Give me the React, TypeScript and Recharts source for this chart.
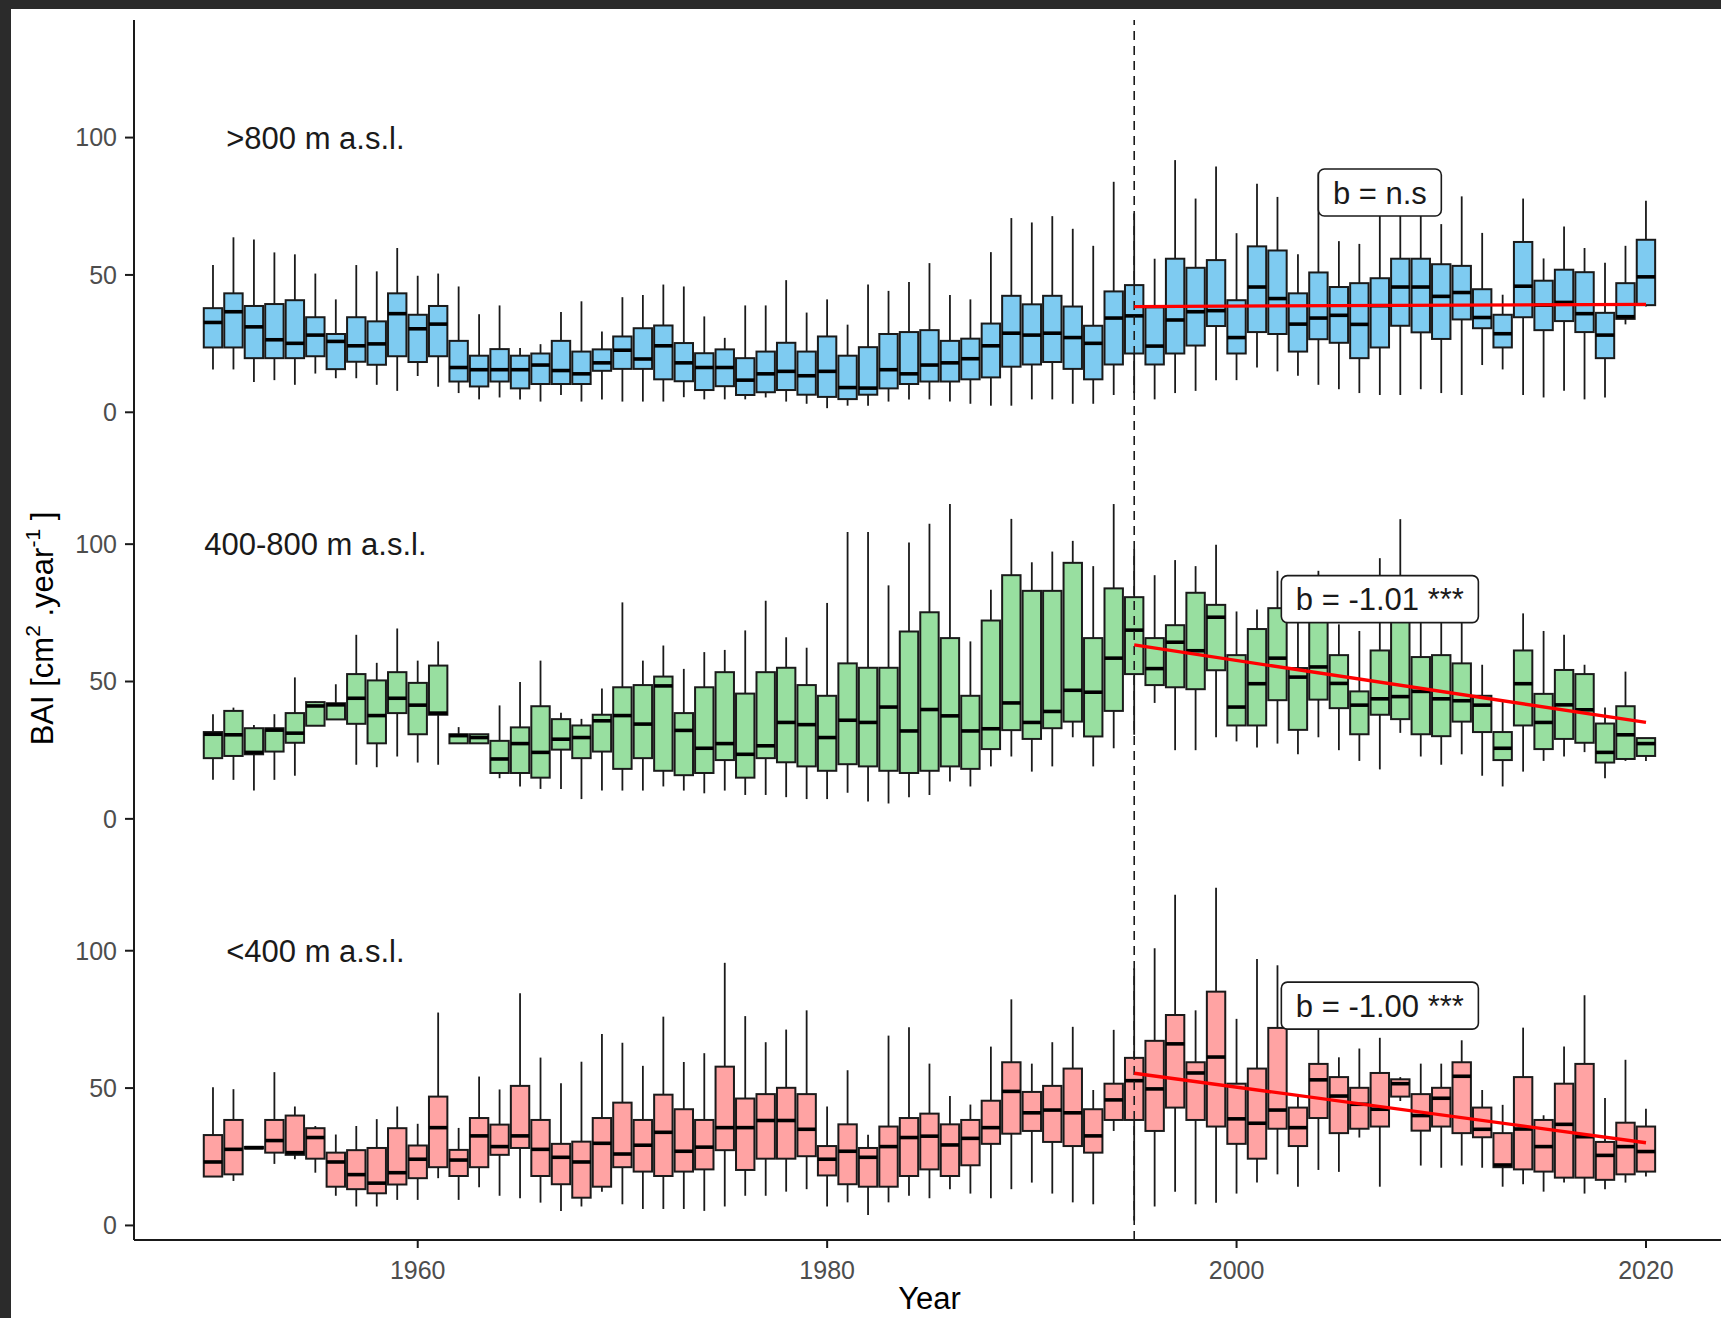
import React from 'react';
import { ComposedChart, Bar, Line, XAxis, YAxis, ReferenceLine, ReferenceDot, Label } from 'recharts';

const FONT = '"Liberation Sans", Arial, sans-serif';

// years on the x axis
const years = Array.from({ length: 71 }, (_, i) => 1950 + i);

// >800 m a.s.l.
const highMax = [53.6, 63.7, 62.9, 58.2, 57.5, 50.5, 41.1, 53.6, 51.3, 59.8, 49.7, 50.5, 45.8, 35.7, 38.9, 23.4, 24.8, 36.5, 40.4, 29.4, 41.9, 42.7, 46.5, 45.8, 34.9, 27.1, 38.9, 38.9, 48.1, 36.3, 41.1, 31.9, 46.5, 44.2, 47.4, 54.3, 42.7, 41.1, 58.3, 70.7, 69.1, 71.4, 66.8, 60.6, 83.9, 72.4, 55.9, 91.8, 77.8, 89.5, 65.2, 83.2, 78.4, 57.5, 87.3, 62.3, 61.3, 74.6, 74.6, 73.4, 68.5, 78.6, 65.3, 42.8, 77.8, 56.0, 67.6, 59.8, 54.4, 60.6, 77.0];
const highQ3 = [37.9, 43.3, 38.7, 39.4, 40.8, 34.6, 28.5, 34.6, 33.1, 43.3, 35.5, 38.7, 26.0, 20.6, 23.0, 20.6, 21.4, 26.0, 22.1, 22.9, 27.6, 30.6, 31.6, 25.2, 21.5, 22.9, 19.7, 22.1, 25.3, 22.1, 27.6, 20.6, 23.7, 28.5, 29.2, 29.9, 26.0, 26.8, 32.3, 42.4, 39.3, 42.4, 38.5, 31.5, 44.0, 46.3, 38.2, 55.9, 52.6, 55.4, 40.8, 60.4, 58.9, 43.3, 50.9, 45.6, 47.0, 48.8, 55.9, 55.9, 53.9, 53.3, 44.8, 35.5, 62.0, 47.9, 51.9, 51.0, 36.2, 47.0, 62.8];
const highMed = [32.7, 36.6, 31.1, 26.4, 25.1, 28.1, 25.8, 24.2, 24.9, 35.9, 30.4, 32.1, 16.3, 15.5, 15.5, 15.5, 17.2, 15.2, 14.0, 18.0, 22.6, 19.4, 24.2, 18.0, 16.3, 16.3, 11.7, 14.0, 14.9, 13.3, 14.9, 9.0, 8.8, 15.5, 14.0, 17.2, 18.0, 19.5, 24.2, 28.8, 28.1, 28.8, 27.2, 25.1, 34.3, 35.1, 24.1, 33.6, 36.6, 37.0, 27.2, 45.6, 41.4, 32.1, 34.3, 35.3, 32.0, 38.8, 45.6, 45.6, 42.2, 43.6, 34.5, 28.6, 45.9, 39.0, 40.0, 35.9, 28.1, 34.8, 49.3];
const highQ1 = [23.6, 23.6, 19.7, 19.7, 19.7, 20.4, 15.7, 18.4, 17.3, 20.4, 18.3, 20.4, 11.2, 9.4, 11.2, 8.7, 10.3, 10.3, 10.3, 15.1, 15.8, 15.8, 12.0, 11.3, 8.1, 9.5, 6.3, 7.3, 8.1, 6.4, 5.6, 4.8, 6.4, 8.7, 10.3, 11.2, 11.2, 12.0, 12.7, 16.6, 17.4, 18.3, 15.8, 12.0, 17.4, 21.4, 17.4, 21.4, 24.3, 31.4, 21.4, 29.2, 28.5, 22.1, 26.6, 25.3, 19.7, 23.6, 31.5, 29.1, 26.7, 33.8, 30.6, 23.6, 34.6, 29.9, 33.2, 29.2, 19.7, 34.0, 39.0];
const highMin = [15.6, 15.6, 11.0, 11.7, 10.0, 14.1, 12.4, 12.4, 10.0, 7.8, 13.2, 9.3, 7.0, 4.7, 5.4, 4.7, 3.9, 6.3, 3.9, 4.7, 3.9, 3.9, 3.9, 5.5, 4.7, 4.7, 4.7, 5.4, 3.9, 3.1, 1.5, 2.4, 2.4, 3.9, 4.7, 4.7, 3.9, 3.1, 2.4, 2.4, 4.7, 4.7, 3.1, 3.1, 6.3, 7.0, 4.7, 7.0, 7.8, 11.7, 11.7, 16.3, 14.9, 13.3, 10.0, 8.4, 7.0, 6.3, 6.3, 8.4, 7.0, 6.3, 17.2, 15.6, 6.3, 5.4, 7.8, 4.7, 5.4, 32.0, 38.5];

// 400-800 m a.s.l.
const midMax = [38.1, 40.5, 34.2, 38.1, 51.5, 42.7, 49.0, 67.0, 56.8, 69.3, 57.6, 64.6, 33.4, 30.8, 41.3, 49.8, 57.6, 38.6, 36.4, 47.5, 78.8, 57.6, 63.1, 54.6, 60.7, 61.5, 68.6, 79.4, 66.1, 62.3, 78.6, 104.4, 104.4, 85.0, 100.6, 107.4, 114.6, 64.6, 83.4, 109.2, 93.4, 97.3, 101.2, 92.0, 114.6, 98.1, 88.7, 94.2, 92.0, 99.8, 75.5, 76.2, 90.3, 82.0, 90.3, 70.8, 68.4, 94.9, 109.1, 75.0, 76.0, 74.0, 56.1, 42.7, 74.8, 68.4, 67.0, 56.1, 40.5, 53.6, 29.4];
const midQ3 = [31.6, 39.3, 33.0, 33.0, 38.5, 42.5, 42.1, 52.7, 50.4, 53.4, 49.5, 55.8, 30.8, 30.8, 28.4, 33.3, 41.0, 36.3, 34.0, 37.9, 47.9, 48.7, 51.8, 38.5, 47.9, 53.4, 45.6, 53.4, 55.0, 48.7, 44.8, 56.6, 55.0, 55.0, 68.2, 75.2, 65.8, 44.8, 72.2, 88.7, 83.0, 83.0, 93.2, 65.8, 83.9, 80.7, 65.8, 70.5, 82.3, 77.9, 59.6, 69.1, 76.7, 54.9, 80.0, 59.6, 46.4, 61.3, 72.0, 58.9, 59.6, 56.6, 44.8, 31.6, 61.3, 45.5, 54.2, 52.7, 34.7, 41.0, 29.4];
const midMed = [30.8, 30.6, 24.2, 32.3, 31.2, 41.1, 41.5, 43.9, 37.6, 43.9, 41.4, 38.5, 30.3, 29.6, 21.8, 27.4, 24.2, 29.0, 29.6, 35.7, 37.6, 34.5, 48.4, 32.2, 25.7, 27.4, 23.5, 26.6, 35.1, 34.3, 29.6, 35.9, 35.1, 40.7, 32.0, 39.8, 37.5, 32.0, 32.8, 42.2, 35.1, 39.1, 46.8, 46.1, 58.5, 68.7, 54.7, 64.3, 61.2, 73.4, 40.7, 49.2, 58.5, 51.6, 55.3, 49.3, 41.4, 43.7, 44.5, 46.4, 43.7, 43.0, 41.4, 25.7, 49.2, 35.1, 41.5, 39.7, 24.2, 30.6, 27.4];
const midQ1 = [22.1, 22.9, 23.5, 24.5, 27.7, 33.9, 36.2, 34.6, 27.5, 38.5, 30.8, 37.9, 27.5, 27.5, 16.7, 16.7, 15.0, 25.2, 22.1, 24.5, 18.2, 22.1, 17.5, 15.9, 16.7, 21.4, 15.0, 22.1, 20.6, 19.1, 17.5, 19.9, 19.1, 17.5, 16.7, 17.5, 19.1, 18.2, 25.4, 32.3, 29.1, 33.0, 35.4, 30.0, 39.3, 52.7, 48.7, 47.9, 47.2, 54.1, 34.0, 34.0, 43.2, 32.4, 43.4, 40.3, 30.8, 37.9, 36.3, 30.8, 30.1, 35.4, 31.6, 21.4, 34.0, 25.4, 29.1, 27.7, 20.5, 21.8, 22.9];
const midMin = [14.2, 14.2, 10.3, 14.2, 15.7, 33.8, 36.2, 19.7, 18.8, 22.7, 20.5, 19.7, 27.5, 27.5, 14.8, 11.8, 10.9, 10.9, 7.2, 10.3, 10.3, 10.3, 11.8, 10.3, 9.3, 10.3, 8.7, 8.7, 7.9, 7.2, 7.2, 9.5, 6.3, 5.6, 7.9, 8.7, 13.6, 11.8, 19.1, 22.7, 17.2, 19.1, 29.7, 19.1, 25.7, 30.6, 42.2, 25.0, 25.0, 29.7, 28.2, 26.0, 27.4, 23.5, 29.7, 25.0, 21.1, 18.0, 31.3, 22.7, 19.7, 23.5, 15.7, 11.8, 17.2, 21.1, 22.7, 24.3, 14.8, 21.1, 21.1];

// <400 m a.s.l.
const lowMax = [50.3, 49.6, 28.6, 55.8, 43.3, 36.2, 33.1, 36.2, 38.7, 43.3, 37.0, 77.5, 35.5, 54.2, 49.5, 84.5, 61.1, 51.8, 59.6, 69.7, 66.5, 58.1, 76.0, 59.5, 62.7, 95.6, 76.2, 66.7, 71.3, 78.3, 43.3, 56.5, 33.0, 69.1, 72.1, 58.9, 47.1, 44.0, 65.1, 82.3, 58.9, 66.7, 72.3, 49.3, 71.2, 93.6, 100.9, 120.4, 78.3, 122.9, 75.2, 97.0, 94.7, 47.0, 76.0, 61.2, 64.4, 68.3, 54.0, 58.9, 58.9, 67.4, 49.3, 43.9, 72.0, 40.1, 65.1, 83.8, 46.4, 60.3, 42.5];
const lowQ3 = [32.9, 38.4, 28.6, 38.4, 40.0, 35.4, 26.5, 27.4, 28.2, 35.4, 29.1, 46.9, 27.5, 39.1, 36.7, 50.8, 38.4, 29.7, 30.5, 39.1, 44.7, 38.4, 47.6, 42.3, 38.4, 57.8, 46.2, 47.8, 50.1, 47.8, 28.9, 36.8, 28.2, 36.0, 39.1, 40.7, 36.8, 38.4, 45.4, 59.4, 48.6, 50.8, 57.1, 42.3, 51.6, 61.0, 67.2, 76.6, 59.4, 85.1, 51.6, 57.1, 71.9, 42.9, 58.8, 54.0, 50.1, 55.5, 53.2, 47.8, 50.1, 59.4, 42.9, 33.6, 54.0, 38.4, 51.6, 58.8, 30.4, 37.4, 36.0];
const lowMed = [23.1, 27.7, 28.3, 30.9, 26.5, 32.0, 23.1, 18.5, 15.4, 19.2, 24.1, 35.6, 23.8, 32.6, 28.7, 32.6, 27.7, 24.8, 23.1, 29.9, 26.0, 29.2, 33.9, 27.0, 28.5, 35.6, 35.6, 38.2, 38.2, 35.0, 24.1, 27.0, 24.8, 28.7, 32.0, 32.5, 29.3, 31.7, 35.6, 48.8, 41.0, 42.0, 41.0, 32.6, 45.7, 52.7, 49.7, 66.1, 55.5, 61.3, 38.8, 37.2, 42.0, 35.6, 53.0, 47.1, 44.1, 42.3, 51.6, 40.0, 46.3, 54.3, 35.0, 22.0, 35.1, 28.7, 36.8, 32.3, 25.5, 28.7, 26.9];
const lowQ1 = [17.8, 18.6, 28.0, 26.5, 25.7, 24.3, 14.1, 13.2, 11.7, 14.9, 17.2, 21.2, 18.0, 21.2, 25.7, 28.2, 18.0, 15.0, 10.1, 14.1, 21.2, 19.6, 18.0, 19.6, 20.4, 27.4, 20.2, 24.3, 24.3, 25.2, 18.2, 15.0, 14.1, 14.1, 18.0, 20.4, 18.0, 21.9, 29.7, 33.4, 34.4, 30.4, 28.9, 26.5, 38.4, 38.4, 34.4, 42.9, 38.4, 36.0, 29.7, 24.3, 35.2, 28.9, 39.1, 33.6, 35.2, 36.0, 46.9, 34.5, 36.0, 33.6, 32.1, 21.2, 20.4, 19.6, 17.4, 17.4, 16.6, 18.6, 19.6];
const lowMin = [17.8, 16.2, 28.0, 22.4, 24.1, 19.2, 10.8, 6.9, 6.9, 9.3, 9.3, 17.2, 9.3, 13.9, 10.8, 9.9, 8.3, 5.3, 6.9, 12.3, 7.7, 6.0, 6.0, 6.0, 5.3, 6.9, 10.8, 10.8, 12.3, 13.2, 6.9, 8.4, 3.8, 8.4, 10.8, 9.9, 13.2, 11.6, 9.9, 13.2, 15.6, 11.6, 8.4, 7.7, 34.4, 1.8, 6.9, 12.3, 7.7, 8.3, 11.6, 15.6, 18.6, 14.1, 20.2, 19.5, 32.0, 14.1, 45.3, 21.8, 21.0, 21.8, 21.0, 14.1, 15.0, 12.3, 15.6, 11.6, 13.2, 15.6, 17.8];

// fitted trend after 1995 (start, end)
const trendYears = [1995, 2020];
const highTrend = [38.5, 39.3];
const midTrend = [63.3, 35.1];
const lowTrend = [55.4, 30.1];

const panelLabels = ['>800 m a.s.l.', '400-800 m a.s.l.', '<400 m a.s.l.'];
const slopeLabels = ['b = n.s', 'b = -1.01 ***', 'b = -1.00 ***'];
const panelTicks = [0, 50, 100];
const xTicks = [1960, 1980, 2000, 2020];

const panels = [
  { key: 'high', off: 296, fill: '#7ECBF1', min: highMin, q1: highQ1, med: highMed, q3: highQ3, max: highMax, trend: highTrend, label: panelLabels[0], slope: slopeLabels[0] },
  { key: 'mid', off: 148, fill: '#98DFA0', min: midMin, q1: midQ1, med: midMed, q3: midQ3, max: midMax, trend: midTrend, label: panelLabels[1], slope: slopeLabels[1] },
  { key: 'low', off: 0, fill: '#FFA3A3', min: lowMin, q1: lowQ1, med: lowMed, q3: lowQ3, max: lowMax, trend: lowTrend, label: panelLabels[2], slope: slopeLabels[2] },
];

const rows = years.map((year, i) => {
  const row: any = { year };
  panels.forEach((p) => {
    row[p.key] = { min: p.min[i], q1: p.q1[i], med: p.med[i], q3: p.q3[i], max: p.max[i] };
  });
  return row;
});

const yTicks = panels.flatMap((p) => panelTicks.map((t) => t + p.off)).sort((a, b) => a - b);
const fmtY = (v: number) => {
  const p = panels.find((q) => v >= q.off);
  return String(v - (p ? p.off : 0));
};

let ctx: CanvasRenderingContext2D | null = null;
function textWidth(text: string, size: number) {
  if (!ctx) ctx = document.createElement('canvas').getContext('2d');
  if (!ctx) return text.length * size * 0.5;
  ctx.font = `${size}px ${FONT}`;
  return ctx.measureText(text).width;
}

function BoxShape(props: any) {
  const { x, y, width, height, payload, pkey, fill } = props;
  const s = payload && payload[pkey];
  if (!s || !Number.isFinite(y) || !Number.isFinite(height)) return <g />;
  const top = Math.min(y, y + height);
  const bot = Math.max(y, y + height);
  const span = s.max - s.min || 1;
  const py = (v: number) => bot - ((bot - top) * (v - s.min)) / span;
  const cx = x + width / 2;
  return (
    <g>
      <line x1={cx} x2={cx} y1={py(s.max)} y2={py(s.min)} stroke="#1a1a1a" strokeWidth={1.8} />
      <rect x={x} y={py(s.q3)} width={width} height={Math.max(py(s.q1) - py(s.q3), 0.5)} fill={fill} stroke="#1a1a1a" strokeWidth={2} />
      <line x1={x} x2={x + width} y1={py(s.med)} y2={py(s.med)} stroke="#000" strokeWidth={3.6} />
    </g>
  );
}

function PanelText(props: any) {
  const { cx, cy, text } = props;
  return (
    <text x={cx} y={cy} dy={11} textAnchor="middle" fontSize={31} fontFamily={FONT} fill="#1a1a1a">
      {text}
    </text>
  );
}

function SlopeBox(props: any) {
  const { cx, cy, text } = props;
  const w = textWidth(text, 31) + 29;
  const h = 47;
  return (
    <g>
      <rect x={cx - w / 2} y={cy - h / 2} width={w} height={h} rx={6} ry={6} fill="#fff" stroke="#1a1a1a" strokeWidth={1.6} />
      <text x={cx} y={cy} dy={11} textAnchor="middle" fontSize={31} fontFamily={FONT} fill="#1a1a1a">
        {text}
      </text>
    </g>
  );
}

function YTitle(props: any) {
  const vb = props.viewBox || { x: 0, y: 20, width: 134, height: 1220 };
  const cx = 53;
  const cy = vb.y + vb.height / 2 - 1.5;
  return (
    <text x={cx} y={cy} transform={`rotate(-90, ${cx}, ${cy})`} textAnchor="middle" fontSize={31} fontFamily={FONT} fill="#000">
      BAI [cm
      <tspan fontSize={21} dy={-13}>2</tspan>
      <tspan dy={13}> .year</tspan>
      <tspan fontSize={21} dy={-13}>-1</tspan>
      <tspan dy={13}> ]</tspan>
    </text>
  );
}

function XTitle(props: any) {
  const vb = props.viewBox || { x: 134, y: 1240, width: 1591, height: 78 };
  return (
    <text x={vb.x + vb.width / 2} y={vb.y + vb.height - 9} textAnchor="middle" fontSize={31} fontFamily={FONT} fill="#000">
      Year
    </text>
  );
}

const boxRange = (key: string, off: number) => (d: any) => {
  const s = d && d[key];
  return s ? [s.min + off, s.max + off] : null;
};

export default function App() {
  const tickStyle = { fill: '#4d4d4d', fontSize: 25, fontFamily: FONT };
  const axisStroke = { stroke: '#1a1a1a', strokeWidth: 2 };
  return (
    <div style={{ position: 'fixed', left: 0, top: 0, width: 1721, height: 1318, overflow: 'hidden', background: '#2b2b2b' }}>
      <div style={{ position: 'absolute', left: 11, top: 9, right: 0, bottom: 0, background: '#fff' }} />
      <div style={{ position: 'absolute', left: 0, top: 0 }}>
        <ComposedChart width={1740} height={1318} data={rows} margin={{ top: 20, right: 15, left: 0, bottom: 0 }}>
          <XAxis
            xAxisId="low"
            dataKey="year"
            type="number"
            orientation="bottom"
            domain={[1946.14, 2023.86]}
            allowDataOverflow
            ticks={xTicks}
            interval={0}
            height={78}
            tick={tickStyle}
            tickSize={8}
            tickMargin={13}
            axisLine={axisStroke}
            tickLine={axisStroke}
          >
            <Label content={<XTitle />} />
          </XAxis>
          <XAxis xAxisId="mid" dataKey="year" type="number" orientation="top" height={0} domain={[1946.14, 2023.86]} allowDataOverflow hide />
          <XAxis xAxisId="high" dataKey="year" type="number" orientation="top" height={0} domain={[1946.14, 2023.86]} allowDataOverflow hide />
          <YAxis
            type="number"
            domain={[-5.3, 438.8]}
            allowDataOverflow
            ticks={yTicks}
            interval={0}
            tickFormatter={fmtY}
            width={134}
            tick={tickStyle}
            tickSize={9}
            tickMargin={8}
            axisLine={axisStroke}
            tickLine={axisStroke}
          >
            <Label content={<YTitle />} />
          </YAxis>

          {panels.map((p) => (
            <Bar
              key={p.key}
              xAxisId={p.key}
              dataKey={boxRange(p.key, p.off)}
              barSize={18.4}
              isAnimationActive={false}
              shape={(props: any) => <BoxShape {...props} pkey={p.key} fill={p.fill} />}
            />
          ))}

          <ReferenceLine xAxisId="low" x={1995} stroke="#1a1a1a" strokeWidth={1.6} strokeDasharray="9 6" />

          {panels.map((p) => (
            <Line
              key={'t' + p.key}
              xAxisId={p.key}
              data={trendYears.map((yr, i) => ({ year: yr, v: p.trend[i] + p.off }))}
              dataKey="v"
              type="linear"
              stroke="#FF0000"
              strokeWidth={3.3}
              dot={false}
              activeDot={false}
              isAnimationActive={false}
            />
          ))}

          {panels.map((p) => (
            <ReferenceDot
              key={'l' + p.key}
              xAxisId="low"
              x={1955}
              y={100 + p.off}
              r={0}
              shape={(props: any) => <PanelText {...props} text={p.label} />}
            />
          ))}
          {panels.map((p) => (
            <ReferenceDot
              key={'s' + p.key}
              xAxisId="low"
              x={2007}
              y={80 + p.off}
              r={0}
              shape={(props: any) => <SlopeBox {...props} text={p.slope} />}
            />
          ))}
        </ComposedChart>
      </div>
    </div>
  );
}
